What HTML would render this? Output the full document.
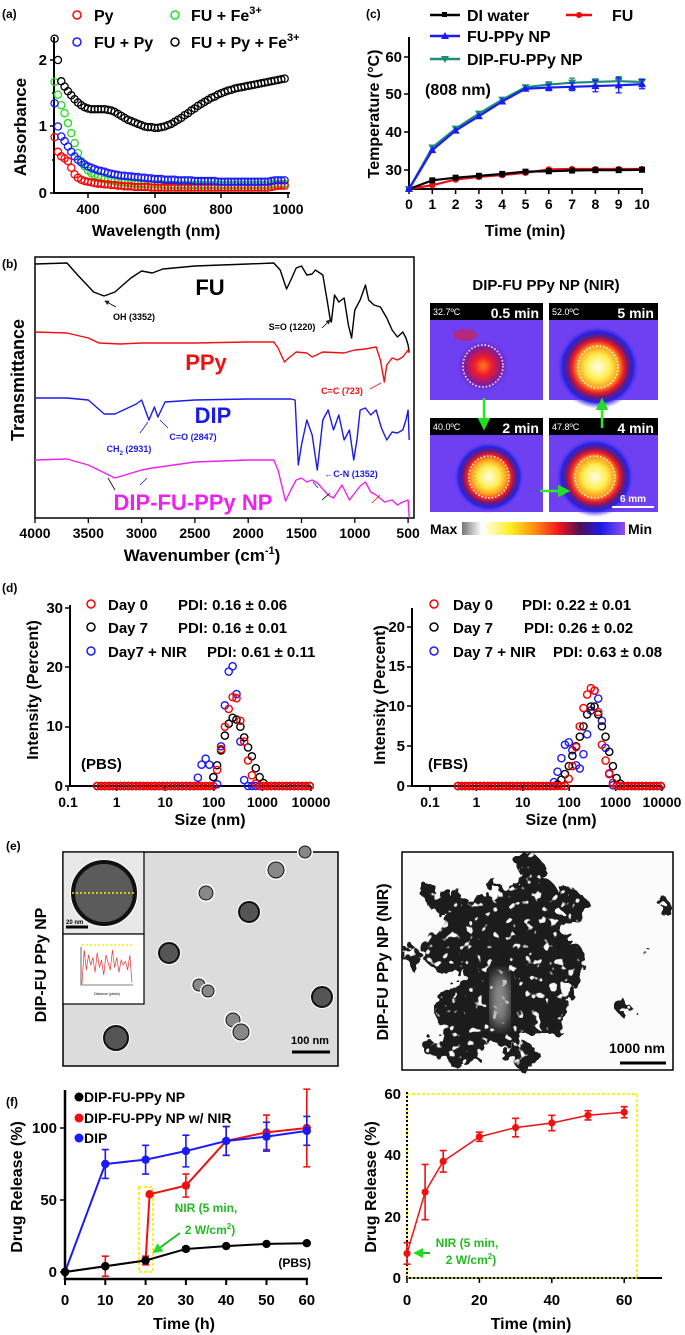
<!DOCTYPE html>
<html><head><meta charset="utf-8">
<style>
html,body{margin:0;padding:0;background:#fff;}
svg{display:block;font-family:"Liberation Sans",Arial,sans-serif;font-weight:bold;}
</style></head>
<body>
<svg id="fig" width="685" height="1335" viewBox="0 0 685 1335" xmlns="http://www.w3.org/2000/svg">
<defs>
<radialGradient id="hot" cx="50%" cy="50%" r="50%">
<stop offset="0" stop-color="#fffce8"/><stop offset="0.3" stop-color="#ffee50"/><stop offset="0.5" stop-color="#ff9a18"/><stop offset="0.62" stop-color="#ee1a28"/><stop offset="0.72" stop-color="#701a70"/><stop offset="0.84" stop-color="#2222e8"/><stop offset="1" stop-color="#7a48f0" stop-opacity="0"/>
</radialGradient>
<radialGradient id="warm" cx="50%" cy="50%" r="50%">
<stop offset="0" stop-color="#ff7a20"/><stop offset="0.35" stop-color="#f01a2a"/><stop offset="0.7" stop-color="#8a1a90"/><stop offset="1" stop-color="#5a30f0" stop-opacity="0"/>
</radialGradient>
<linearGradient id="cbar" x1="0" x2="1" y1="0" y2="0">
<stop offset="0" stop-color="#777"/><stop offset="0.12" stop-color="#fff"/><stop offset="0.3" stop-color="#ffee20"/><stop offset="0.45" stop-color="#ff8a10"/><stop offset="0.6" stop-color="#ee1020"/><stop offset="0.72" stop-color="#501050"/><stop offset="0.85" stop-color="#1a1ae8"/><stop offset="1" stop-color="#9050f0"/>
</linearGradient>
<filter id="rough" x="-30%" y="-30%" width="160%" height="160%">
<feTurbulence type="fractalNoise" baseFrequency="0.06" numOctaves="3" seed="4" result="n"/>
<feDisplacementMap in="SourceGraphic" in2="n" scale="34" result="d"/>
<feTurbulence type="fractalNoise" baseFrequency="0.12" numOctaves="2" seed="7" result="n2"/>
<feColorMatrix in="n2" type="matrix" values="0 0 0 0 0  0 0 0 0 0  0 0 0 0 0  0 0 0 -12 8.6" result="m"/>
<feComposite in="d" in2="m" operator="in"/>
</filter>
<filter id="soft"><feGaussianBlur stdDeviation="6"/></filter>
<marker id="arrB" markerWidth="6" markerHeight="6" refX="5" refY="3" orient="auto"><path d="M0,0 L6,3 L0,6 z" fill="#222"/></marker>
<marker id="arrG" markerWidth="5" markerHeight="5" refX="4" refY="2.5" orient="auto"><path d="M0,0 L5,2.5 L0,5 z" fill="#22dd22"/></marker>
</defs>

<!-- ============ PANEL A ============ -->
<g>
<text x="2" y="18" font-size="12">(a)</text>
<line x1="54" y1="37" x2="54" y2="194" stroke="#000" stroke-width="2"/>
<line x1="53" y1="193" x2="290" y2="193" stroke="#000" stroke-width="2"/>
<g font-size="15" text-anchor="end">
<text x="47" y="198">0</text><text x="47" y="131">1</text><text x="47" y="65">2</text>
<path d="M50,193H54M50,126H54M50,60H54M52,160H54M52,93H54" stroke="#000" stroke-width="1.5"/>
</g>
<g font-size="14" text-anchor="middle">
<text x="88" y="214">400</text><text x="155" y="214">600</text><text x="221" y="214">800</text><text x="288" y="214">1000</text>
<path d="M88,193V198M155,193V198M221,193V198M288,193V198" stroke="#000" stroke-width="1.5"/>
</g>
<text x="156" y="236" font-size="16" text-anchor="middle">Wavelength (nm)</text>
<text transform="translate(26,127) rotate(-90)" font-size="17" text-anchor="middle">Absorbance</text>
<g font-size="16">
<circle cx="77" cy="15" r="4" fill="none" stroke="#f00" stroke-width="1.5"/><text x="94" y="21">Py</text>
<circle cx="77" cy="42" r="4" fill="none" stroke="#1a1aff" stroke-width="1.5"/><text x="94" y="48">FU + Py</text>
<circle cx="175" cy="15" r="4" fill="none" stroke="#1ee01e" stroke-width="1.5"/><text x="191" y="21">FU + Fe<tspan font-size="11" dy="-7">3+</tspan></text>
<circle cx="175" cy="42" r="4" fill="none" stroke="#000" stroke-width="1.5"/><text x="191" y="48">FU + Py + Fe<tspan font-size="11" dy="-7">3+</tspan></text>
</g>
<g id="aMarks"></g>
</g>

<!-- ============ PANEL C ============ -->
<g>
<text x="366" y="18" font-size="12">(c)</text>
<line x1="409" y1="37" x2="409" y2="190" stroke="#000" stroke-width="2"/>
<line x1="408" y1="189" x2="643" y2="189" stroke="#000" stroke-width="2"/>
<g font-size="15" text-anchor="end">
<text x="402" y="62">60</text><text x="402" y="99">50</text><text x="402" y="137">40</text><text x="402" y="175">30</text>
<path d="M404,57H409M404,94H409M404,132H409M404,170H409" stroke="#000" stroke-width="1.5"/>
</g>
<g id="cTicks" font-size="14" text-anchor="middle"></g>
<text x="525" y="236" font-size="16" text-anchor="middle">Time (min)</text>
<text transform="translate(379,114) rotate(-90)" font-size="16" text-anchor="middle">Temperature (°C)</text>
<g font-size="16">
<line x1="430" y1="15" x2="460" y2="15" stroke="#000" stroke-width="2.5"/><rect x="442" y="12" width="5" height="5" fill="#000"/><text x="467" y="21">DI water</text>
<line x1="566" y1="15" x2="592" y2="15" stroke="#f00" stroke-width="2.5"/><circle cx="579" cy="15" r="3" fill="#f00"/><text x="612" y="21">FU</text>
<line x1="430" y1="36" x2="460" y2="36" stroke="#1a1aff" stroke-width="2.5"/><path d="M445,32 L449,39 L441,39z" fill="#1a1aff"/><text x="467" y="42">FU-PPy NP</text>
<line x1="430" y1="59" x2="460" y2="59" stroke="#1e8c78" stroke-width="2.5"/><path d="M441,56 L449,56 L445,63z" fill="#1e8c78"/><text x="467" y="65">DIP-FU-PPy NP</text>
</g>
<text x="425" y="95" font-size="16">(808 nm)</text>
<g id="cMarks"></g>
</g>

<!-- ============ PANEL B ============ -->
<g>
<text x="2" y="268" font-size="12">(b)</text>
<rect x="35" y="257" width="379" height="261" fill="none" stroke="#000" stroke-width="1.5"/>
<g id="bTicks" font-size="14" text-anchor="middle"></g>
<text x="202" y="561" font-size="17" text-anchor="middle">Wavenumber (cm<tspan font-size="11" dy="-7">-1</tspan><tspan dy="7">)</tspan></text>
<text transform="translate(24,380) rotate(-90)" font-size="18" text-anchor="middle">Transmittance</text>
<g id="bMarks"></g>
<text x="210" y="295" font-size="22" text-anchor="middle" fill="#000">FU</text>
<text x="206" y="370" font-size="22" text-anchor="middle" fill="#f01010">PPy</text>
<text x="213" y="423" font-size="22" text-anchor="middle" fill="#1a1aee">DIP</text>
<text x="193" y="510" font-size="22" text-anchor="middle" fill="#ee22ee">DIP-FU-PPy NP</text>
<g font-size="9" text-anchor="middle">
<text x="134" y="320" fill="#000">OH (3352)</text>
<line x1="116" y1="307" x2="105" y2="301" stroke="#000" stroke-width="0.8" marker-end="url(#arrB)"/>
<text x="292" y="330" fill="#000">S=O (1220)</text>
<line x1="322" y1="328" x2="330" y2="320" stroke="#000" stroke-width="0.8" marker-end="url(#arrB)"/>
<text x="342" y="394" fill="#f01010">C=C (723)</text>
<line x1="370" y1="389" x2="381" y2="383" stroke="#f01010" stroke-width="0.8"/>
<text x="129" y="452" fill="#1a1aee">CH<tspan font-size="6" dy="3">2</tspan><tspan dy="-3"> (2931)</tspan></text>
<line x1="140" y1="433" x2="148" y2="422" stroke="#1a1aee" stroke-width="0.8"/>
<text x="193" y="440" fill="#1a1aee">C=O (2847)</text>
<line x1="168" y1="428" x2="160" y2="420" stroke="#1a1aee" stroke-width="0.8"/>
<text x="351" y="477" fill="#1a1aee">←C-N (1352)</text>
<line x1="115" y1="490" x2="108" y2="478" stroke="#000" stroke-width="0.8"/>
<line x1="140" y1="485" x2="147" y2="478" stroke="#1a1aee" stroke-width="0.8"/>
<line x1="322" y1="500" x2="330" y2="493" stroke="#000" stroke-width="0.8"/>
<line x1="318" y1="488" x2="313" y2="482" stroke="#1a1aee" stroke-width="0.8"/>
<line x1="372" y1="503" x2="380" y2="495" stroke="#f01010" stroke-width="0.8"/>
</g>
</g>

<!-- ============ THERMAL IMAGES ============ -->
<g>
<text x="546" y="290" font-size="15" text-anchor="middle">DIP-FU PPy NP (NIR)</text>
<g id="thermal"></g>
<rect x="462" y="522" width="163" height="13" fill="url(#cbar)"/>
<text x="430" y="534" font-size="14">Max</text>
<text x="628" y="534" font-size="14">Min</text>
<g stroke="#22ee22" stroke-width="2.5" fill="none">
<line x1="484" y1="398" x2="484" y2="428" marker-end="url(#arrG)"/>
<line x1="602" y1="428" x2="602" y2="400" marker-end="url(#arrG)"/>
<line x1="540" y1="491" x2="568" y2="491" marker-end="url(#arrG)"/>
</g>
<line x1="612" y1="507" x2="654" y2="507" stroke="#fff" stroke-width="2"/>
<text x="633" y="502" font-size="10" fill="#fff" text-anchor="middle">6 mm</text>
</g>

<!-- ============ PANEL D ============ -->
<g>
<text x="2" y="592" font-size="12">(d)</text>
<line x1="70" y1="605" x2="70" y2="787" stroke="#000" stroke-width="2"/>
<line x1="69" y1="786" x2="311" y2="786" stroke="#000" stroke-width="2"/>
<g font-size="15" text-anchor="end">
<text x="63" y="613">30</text><text x="63" y="672">20</text><text x="63" y="731">10</text><text x="63" y="791">0</text>
<path d="M65,608H70M65,667H70M65,727H70M65,786H70" stroke="#000" stroke-width="1.5"/>
</g>
<g id="dTicksL" font-size="14" text-anchor="middle"></g>
<text x="210" y="825" font-size="16" text-anchor="middle">Size (nm)</text>
<text transform="translate(38,690) rotate(-90)" font-size="16" text-anchor="middle">Intensity (Percent)</text>
<text x="81" y="769" font-size="15">(PBS)</text>
<g font-size="15">
<circle cx="91" cy="604" r="4" fill="none" stroke="#f00" stroke-width="1.5"/><text x="108" y="610">Day 0</text><text x="178" y="610">PDI: 0.16 ± 0.06</text>
<circle cx="91" cy="627" r="4" fill="none" stroke="#000" stroke-width="1.5"/><text x="108" y="633">Day 7</text><text x="178" y="633">PDI: 0.16 ± 0.01</text>
<circle cx="91" cy="651" r="4" fill="none" stroke="#1a1aff" stroke-width="1.5"/><text x="108" y="657">Day7 + NIR</text><text x="207" y="657">PDI: 0.61 ± 0.11</text>
</g>
<line x1="412" y1="608" x2="412" y2="787" stroke="#000" stroke-width="2"/>
<line x1="411" y1="786" x2="662" y2="786" stroke="#000" stroke-width="2"/>
<g font-size="15" text-anchor="end">
<text x="405" y="632">20</text><text x="405" y="671">15</text><text x="405" y="711">10</text><text x="405" y="751">5</text><text x="405" y="791">0</text>
<path d="M407,627H412M407,667H412M407,706H412M407,746H412M407,786H412" stroke="#000" stroke-width="1.5"/>
</g>
<g id="dTicksR" font-size="14" text-anchor="middle"></g>
<text x="561" y="825" font-size="16" text-anchor="middle">Size (nm)</text>
<text transform="translate(385,695) rotate(-90)" font-size="16" text-anchor="middle">Intensity (Percent)</text>
<text x="428" y="769" font-size="15">(FBS)</text>
<g font-size="15">
<circle cx="434" cy="604" r="4" fill="none" stroke="#f00" stroke-width="1.5"/><text x="453" y="610">Day 0</text><text x="522" y="610">PDI: 0.22 ± 0.01</text>
<circle cx="434" cy="627" r="4" fill="none" stroke="#000" stroke-width="1.5"/><text x="453" y="633">Day 7</text><text x="524" y="633">PDI: 0.26  ± 0.02</text>
<circle cx="434" cy="651" r="4" fill="none" stroke="#1a1aff" stroke-width="1.5"/><text x="453" y="657">Day 7 + NIR</text><text x="553" y="657">PDI: 0.63  ± 0.08</text>
</g>
<g id="dMarks"></g>
</g>

<!-- ============ PANEL E ============ -->
<g>
<text x="6" y="850" font-size="12">(e)</text>
<g>
<rect x="63" y="852" width="275" height="214" fill="#dcdcdc" stroke="#000" stroke-width="1.5"/>
<g id="temParticles"></g>
<rect x="63" y="852" width="81" height="82" fill="#e8e8e8" stroke="#000" stroke-width="1.2"/>
<circle cx="104" cy="893" r="34" fill="#fff"/>
<circle cx="104" cy="893" r="31" fill="#5a5a5a" stroke="#111" stroke-width="4"/>
<line x1="72" y1="893" x2="136" y2="893" stroke="#ffee00" stroke-width="1.5" stroke-dasharray="2,2"/>
<line x1="66" y1="927" x2="88" y2="927" stroke="#000" stroke-width="3"/>
<text x="66" y="924" font-size="6">20 nm</text>
<rect x="63" y="934" width="81" height="70" fill="#fff" stroke="#000" stroke-width="1.2"/>
<line x1="82" y1="945" x2="133" y2="945" stroke="#ffee00" stroke-width="1.5" stroke-dasharray="2,2"/>
<path d="M81,947V985H133" fill="none" stroke="#000" stroke-width="0.6"/>
<text x="107" y="995" font-size="3.5" text-anchor="middle" font-weight="normal">Distance (pixels)</text>
<g id="insetLine"></g>
<line x1="292" y1="1052" x2="330" y2="1052" stroke="#000" stroke-width="3"/>
<text x="310" y="1044" font-size="11" text-anchor="middle">100 nm</text>
</g>
<text transform="translate(46,965) rotate(-90)" font-size="16" text-anchor="middle">DIP-FU PPy NP</text>
<g>
<rect x="402" y="852" width="271" height="218" fill="#fbfbfb" stroke="#000" stroke-width="1.5"/>
<g filter="url(#rough)" fill="#1a1a1a">
<ellipse cx="505" cy="965" rx="42" ry="80"/>
<ellipse cx="478" cy="925" rx="38" ry="28"/>
<ellipse cx="535" cy="915" rx="32" ry="38"/>
<ellipse cx="468" cy="1015" rx="28" ry="38"/>
<ellipse cx="540" cy="1000" rx="26" ry="38"/>
<ellipse cx="448" cy="950" rx="26" ry="22"/>
<ellipse cx="560" cy="960" rx="24" ry="24"/>
<ellipse cx="530" cy="872" rx="14" ry="18"/>
<ellipse cx="440" cy="900" rx="16" ry="12"/>
<ellipse cx="574" cy="905" rx="12" ry="14"/>
<ellipse cx="412" cy="957" rx="9" ry="10"/>
<ellipse cx="625" cy="1010" rx="6" ry="8"/>
<ellipse cx="663" cy="905" rx="6" ry="9"/>
<ellipse cx="645" cy="950" rx="4" ry="4"/>
<ellipse cx="455" cy="1050" rx="30" ry="14"/>
<ellipse cx="520" cy="1055" rx="18" ry="12"/>
</g>
<ellipse cx="500" cy="1000" rx="9" ry="28" fill="#999" filter="url(#soft)"/>
<line x1="620" y1="1063" x2="666" y2="1063" stroke="#000" stroke-width="3"/>
<text x="637" y="1053" font-size="14" text-anchor="middle">1000 nm</text>
</g>
<text transform="translate(388,962) rotate(-90)" font-size="16" text-anchor="middle">DIP-FU PPy NP (NIR)</text>
</g>

<!-- ============ PANEL F ============ -->
<g>
<text x="6" y="1106" font-size="12">(f)</text>
<line x1="65" y1="1090" x2="65" y2="1280" stroke="#000" stroke-width="2.5"/>
<line x1="64" y1="1279" x2="308" y2="1279" stroke="#000" stroke-width="2.5"/>
<g font-size="15" text-anchor="end">
<text x="57" y="1277">0</text><text x="57" y="1205">50</text><text x="57" y="1133">100</text>
<path d="M60,1272H65M60,1200H65M60,1128H65" stroke="#000" stroke-width="1.5"/>
</g>
<g id="fTicksL" font-size="15" text-anchor="middle"></g>
<text x="184" y="1329" font-size="16" text-anchor="middle">Time  (h)</text>
<text transform="translate(22,1187) rotate(-90)" font-size="16" text-anchor="middle">Drug Release (%)</text>
<g font-size="14">
<circle cx="79" cy="1097" r="4.5" fill="#000"/><text x="84" y="1102">DIP-FU-PPy NP</text>
<circle cx="79" cy="1118" r="4.5" fill="#f01010"/><text x="84" y="1123">DIP-FU-PPy NP w/ NIR</text>
<circle cx="79" cy="1138" r="4.5" fill="#1a1aff"/><text x="84" y="1143">DIP</text>
</g>
<text x="311" y="1267" font-size="12" text-anchor="end">(PBS)</text>
<rect x="139" y="1187" width="14" height="85" fill="none" stroke="#ffee00" stroke-width="1.8" stroke-dasharray="3,2"/>
<text x="206" y="1212" font-size="12" fill="#22bb22" text-anchor="middle">NIR (5 min,</text>
<text x="210" y="1234" font-size="12" fill="#22bb22" text-anchor="middle">2 W/cm<tspan font-size="8" dy="-5">2</tspan><tspan dy="5">)</tspan></text>
<line x1="180" y1="1233" x2="154" y2="1252" stroke="#22bb22" stroke-width="2" marker-end="url(#arrG)"/>
<g id="fMarksL"></g>

<rect x="407" y="1094" width="230" height="184" fill="none" stroke="#ffee00" stroke-width="1.8" stroke-dasharray="3,2"/>
<line x1="407" y1="1092" x2="407" y2="1279" stroke="#000" stroke-width="2" stroke-dasharray="2,2"/>
<line x1="406" y1="1278" x2="662" y2="1278" stroke="#000" stroke-width="2"/>
<line x1="407" y1="1278" x2="637" y2="1278" stroke="#ffee00" stroke-width="1.5" stroke-dasharray="2,2"/>
<g font-size="15" text-anchor="end">
<text x="401" y="1283">0</text><text x="401" y="1222">20</text><text x="401" y="1160">40</text><text x="401" y="1099">60</text>
</g>
<g id="fTicksR" font-size="15" text-anchor="middle"></g>
<text x="531" y="1329" font-size="16" text-anchor="middle">Time (min)</text>
<text transform="translate(376,1187) rotate(-90)" font-size="16" text-anchor="middle">Drug Release (%)</text>
<text x="467" y="1247" font-size="12" fill="#22bb22" text-anchor="middle">NIR (5 min,</text>
<text x="471" y="1264" font-size="12" fill="#22bb22" text-anchor="middle">2 W/cm<tspan font-size="8" dy="-5">2</tspan><tspan dy="5">)</tspan></text>
<line x1="430" y1="1253" x2="415" y2="1253" stroke="#22bb22" stroke-width="2" marker-end="url(#arrG)"/>
<g id="fMarksR"></g>
</g>
</svg>

<script>
// ---------- DATA ----------
const aWavelength = [300,310,320,330,340,350,360,370,380,390,400,410,420,430,440,450,460,470,480,490,500,510,520,530,540,550,560,570,580,590,600,610,620,630,640,650,660,670,680,690,700,710,720,730,740,750,760,770,780,790,800,810,820,830,840,850,860,870,880,890,900,910,920,930,940,950,960,970,980,990];
const aPy = [0.84,0.62,0.55,0.52,0.48,0.38,0.28,0.23,0.20,0.18,0.17,0.16,0.15,0.14,0.14,0.13,0.13,0.12,0.12,0.11,0.11,0.10,0.10,0.10,0.09,0.09,0.09,0.09,0.09,0.08,0.08,0.08,0.08,0.08,0.08,0.08,0.08,0.08,0.08,0.08,0.08,0.08,0.08,0.08,0.08,0.08,0.08,0.08,0.08,0.08,0.08,0.08,0.08,0.08,0.08,0.08,0.08,0.08,0.08,0.08,0.08,0.08,0.08,0.08,0.08,0.09,0.10,0.11,0.11,0.11];
const aFuFe = [1.67,1.48,1.32,1.20,1.05,0.90,0.75,0.60,0.48,0.40,0.34,0.30,0.27,0.25,0.23,0.21,0.20,0.19,0.18,0.17,0.16,0.16,0.15,0.15,0.14,0.14,0.14,0.13,0.13,0.13,0.13,0.13,0.13,0.12,0.12,0.12,0.12,0.12,0.12,0.12,0.12,0.12,0.12,0.12,0.12,0.12,0.12,0.12,0.12,0.12,0.12,0.12,0.12,0.12,0.12,0.12,0.12,0.12,0.12,0.12,0.12,0.12,0.12,0.12,0.12,0.13,0.14,0.14,0.14,0.14];
const aFuPy = [1.35,1.00,0.85,0.78,0.70,0.62,0.55,0.50,0.46,0.43,0.40,0.38,0.36,0.34,0.33,0.32,0.30,0.29,0.28,0.27,0.26,0.26,0.25,0.25,0.24,0.24,0.23,0.23,0.22,0.22,0.21,0.21,0.21,0.20,0.20,0.20,0.20,0.19,0.19,0.19,0.19,0.19,0.18,0.18,0.18,0.18,0.18,0.18,0.18,0.17,0.17,0.17,0.17,0.17,0.17,0.17,0.17,0.17,0.17,0.17,0.17,0.17,0.17,0.17,0.17,0.18,0.19,0.19,0.19,0.19];
const aFuPyFe = [2.32,2.00,1.68,1.60,1.53,1.47,1.41,1.36,1.32,1.29,1.27,1.26,1.26,1.26,1.26,1.26,1.25,1.24,1.22,1.19,1.16,1.13,1.10,1.08,1.06,1.04,1.02,1.00,0.99,0.99,0.98,0.98,0.99,1.00,1.02,1.04,1.07,1.10,1.13,1.17,1.20,1.24,1.27,1.31,1.34,1.37,1.40,1.43,1.45,1.48,1.50,1.52,1.54,1.55,1.57,1.58,1.59,1.60,1.61,1.62,1.63,1.64,1.65,1.66,1.67,1.68,1.69,1.70,1.71,1.72];

const cTime = [0,1,2,3,4,5,6,7,8,9,10];
const cDI = [25,27.3,28,28.5,29,29.6,29.7,29.9,30,30,30.1];
const cFU = [25,26,27.5,28.2,28.7,29.3,30.2,30.3,30.3,30.3,30.3];
const cFUPPy = [25,35.3,40.5,44.3,48.2,51.6,51.9,52.1,52.3,52.5,52.8];
const cFUPPyErr = [0,0.5,0.5,0.5,0.5,0.5,0.8,1.0,1.5,2.0,1.2];
const cDIP = [25,36,41,45,48.7,52,52.7,53.2,53.4,53.6,53.4];
const cDIPErr = [0,0.5,0.5,0.5,0.5,0.5,0.7,1.2,0.8,1.2,0.8];

const bWnFU = [4000,3700,3600,3450,3352,3250,3100,3000,2900,2800,2500,2000,1760,1700,1640,1600,1550,1500,1450,1400,1370,1300,1260,1230,1220,1190,1150,1100,1060,1030,1000,950,900,870,820,760,700,650,600,550,520,500,490];
const bFU = [254,255,243,226,222,226,240,247,245,249,252,254,255,248,229,238,250,252,243,244,248,243,218,198,196,223,216,220,193,180,208,218,233,218,213,211,200,188,181,186,180,173,166];
const bWnPPy = [4000,3700,3500,3400,3200,3000,2500,2000,1760,1720,1660,1620,1550,1450,1400,1300,1100,1000,900,800,760,723,700,650,600,550,500,490];
const bPPy = [186,185,180,175,174,175,175,176,176,170,156,160,166,165,161,166,165,168,169,171,158,136,153,160,158,161,168,165];
const bWnDIP = [4000,3700,3500,3350,3250,3050,3000,2931,2880,2847,2780,2500,2000,1600,1560,1530,1500,1450,1400,1352,1300,1250,1200,1150,1100,1050,1010,980,950,900,850,800,750,700,650,600,550,520,500,490];
const bDIP = [120,120,118,104,104,114,118,98,111,101,116,118,119,119,118,53,73,98,83,48,98,108,88,103,78,88,58,78,108,110,103,108,90,78,86,85,88,98,108,78];
const bWnNP = [4000,3700,3500,3250,3000,2900,2500,2000,1760,1720,1650,1600,1550,1500,1450,1400,1350,1250,1200,1120,1050,1000,950,900,850,800,720,650,600,550,500,490];
const bNP = [58,59,53,40,48,50,56,58,58,48,17,28,38,40,36,38,35,23,20,33,18,25,32,36,26,23,16,18,13,16,18,0];
const bTickLabels = [4000,3500,3000,2500,2000,1500,1000,500];

const dSize = [0.4,0.48,0.58,0.7,0.84,1,1.2,1.45,1.75,2.1,2.5,3,3.6,4.3,5.2,6.2,7.5,9,10.8,13,15.6,18.8,22.5,27,32.5,39,47,56,68,81,98,117,141,169,203,244,293,352,422,507,608,730,876,1050,1260,1520,1820,2190,2630,3150,3780,4540,5450,6540,7850,9420];
const dPbsDay0 = [0,0,0,0,0,0,0,0,0,0,0,0,0,0,0,0,0,0,0,0,0,0,0,0,0,0,0,0,0,0,0,2.7,6.2,10,13,15,14.8,11,7.5,4.3,1.8,0.4,0,0,0,0,0,0,0,0,0,0,0,0,0,0];
const dPbsDay7 = [0,0,0,0,0,0,0,0,0,0,0,0,0,0,0,0,0,0,0,0,0,0,0,0,0,0,0,0,0,0,1.5,3.5,6,8.5,10.5,11.5,11.2,10,8.2,6.5,5,3,1.5,0.5,0,0,0,0,0,0,0,0,0,0,0,0];
const dPbsNIR = [0,0,0,0,0,0,0,0,0,0,0,0,0,0,0,0,0,0,0,0,0,0,0,0,0,0,1.4,3.6,4.6,3.6,1.5,0.3,6.7,13.6,19.3,20.2,15.5,7.5,1,0,0,0,0,0,0,0,0,0,0,0,0,0,0,0,0,0];
const dFbsDay0 = [0,0,0,0,0,0,0,0,0,0,0,0,0,0,0,0,0,0,0,0,0,0,0,0,0,0,0,0,0,0,0.9,2.5,4.9,7.5,9.8,11.5,12.3,12,9.3,5.2,3.2,1.6,0.4,0,0,0,0,0,0,0,0,0,0,0,0,0];
const dFbsDay7 = [0,0,0,0,0,0,0,0,0,0,0,0,0,0,0,0,0,0,0,0,0,0,0,0,0,0,0,0.2,0.8,1.5,2.5,3.8,5,6.2,7.5,9,10,10,9,7.5,6.2,4.3,2.5,1,0.3,0,0,0,0,0,0,0,0,0,0,0];
const dFbsNIR = [0,0,0,0,0,0,0,0,0,0,0,0,0,0,0,0,0,0,0,0,0,0,0,0,0,0,0.5,1.8,3.5,5.2,5.5,4.5,2.6,2.2,4,6.5,9.5,12,11,8.2,4.8,1.5,0.1,0,0,0,0,0,0,0,0,0,0,0,0,0];
const dTickLabels = ["0.1","1","10","100","1000","10000"];
const dTickValues = [0.1,1,10,100,1000,10000];

const eGray = [5,140,60,120,80,110,50,130,70,100,40,120,90,60,140,70,110,50,100,80,95,60,120,10];

const fTime = [0,10,20,30,40,50,60];
const fNP = [0,4,8,16,18,19.5,20];
const fNPErr = [0,1,1.5,1.5,1,1,1];
const fNirTime = [0,10,20,21,30,40,50,60];
const fNir = [0,4,8,54,60,91,97,100];
const fNirErr = [0,7,3,1,8,10,12,27];
const fDIP = [0,75,78,84,91,94,98];
const fDIPErr = [0,10,10,11,10,10,10];
const gTime = [0,5,10,20,30,40,50,60];
const gRel = [8,28,38,46,49,50.5,53,54];
const gErr = [3.5,9,3.5,1.5,3,2.5,1.5,1.8];
const fTickL = [0,10,20,30,40,50,60];
const fTickR = [0,20,40,60];

// ---------- HELPERS ----------
const NS = "http://www.w3.org/2000/svg";
function mk(tag, attrs, parent){
  const e = document.createElementNS(NS, tag);
  for (const k in attrs) e.setAttribute(k, attrs[k]);
  parent.appendChild(e);
  return e;
}
const $ = id => document.getElementById(id);

const ax = w => 54.6 + (w - 300) * 0.3334;
const ay = v => 193 - v * 66.5;
const cx = t => 409 + t * 23.3;
const cy = v => 189 - (v - 25) * 3.77;
const bx = wn => 35 + (4000 - wn) * 0.1066;
const by = T => 518 - T;
const dxL = s => 68 + (Math.log10(s) + 1) * 48.6;
const dyL = v => 786 - v * 5.93;
const dxR = s => 430 + (Math.log10(s) + 1) * 46.4;
const dyR = v => 786 - v * 7.95;
const fx = t => 65 + t * 4.03;
const fy = v => 1272 - v * 1.44;
const gx = t => 407 + t * 3.62;
const gy = v => 1278 - v * 3.07;

// ---------- PANEL A ----------
function aSeries(vals, color, name){
  const g = mk('g', {}, $('aMarks'));
  
  
  vals.forEach((v, i) => {
    const c = mk('circle', {cx: ax(aWavelength[i]), cy: ay(v), r: 3.6, fill: 'none', stroke: color, 'stroke-width': 1.3}, g);
    
    
  });
}
aSeries(aFuFe, '#1ee01e', 'series-fu-fe');
aSeries(aPy, '#f00', 'series-py');
aSeries(aFuPy, '#1a1aff', 'series-fu-py');
aSeries(aFuPyFe, '#000', 'series-fu-py-fe');

// ---------- PANEL C ----------
cTime.forEach(t => {
  const tx = mk('text', {x: cx(t), y: 209}, $('cTicks'));
  tx.textContent = t;
  
  
  const tk = mk('line', {x1: cx(t), x2: cx(t), y1: 189, y2: 194, stroke: '#000', 'stroke-width': 1.5}, $('cTicks'));
  
  
});
function cSeries(vals, errs, color, name, marker){
  const g = mk('g', {}, $('cMarks'));
  
  
  const pts = vals.map((v, i) => cx(cTime[i]) + ',' + cy(v)).join(' ');
  const pl = mk('polyline', {points: pts, fill: 'none', stroke: color, 'stroke-width': 2.2}, g);
  
  
  vals.forEach((v, i) => {
    const X = cx(cTime[i]), Y = cy(v);
    if (errs && errs[i] > 0.6) {
      const e = mk('path', {d: `M${X},${cy(v+errs[i])}V${cy(v-errs[i])}M${X-3},${cy(v+errs[i])}H${X+3}M${X-3},${cy(v-errs[i])}H${X+3}`, stroke: color, 'stroke-width': 1.3, fill: 'none'}, g);
      
      
    }
    let m;
    if (marker === 'sq') m = mk('rect', {x: X-3, y: Y-3, width: 6, height: 6, fill: color}, g);
    else if (marker === 'tri') m = mk('path', {d: `M${X},${Y-4}L${X+4},${Y+3}L${X-4},${Y+3}z`, fill: color}, g);
    else if (marker === 'itri') m = mk('path', {d: `M${X-4},${Y-3}L${X+4},${Y-3}L${X},${Y+4}z`, fill: color}, g);
    else m = mk('circle', {cx: X, cy: Y, r: 3.2, fill: color}, g);
    
    
  });
}
cSeries(cFU, null, '#f01010', 'series-fu', 'circ');
cSeries(cDI, null, '#000', 'series-di-water', 'sq');
cSeries(cDIP, cDIPErr, '#1e8c78', 'series-dip-fu-ppy', 'itri');
cSeries(cFUPPy, cFUPPyErr, '#1a1aff', 'series-fu-ppy', 'tri');

// ---------- PANEL B ----------
bTickLabels.forEach(w => {
  const tx = mk('text', {x: bx(w), y: 538}, $('bTicks'));
  tx.textContent = w;
  
  
  const tk = mk('line', {x1: bx(w), x2: bx(w), y1: 518, y2: 523, stroke: '#000', 'stroke-width': 1.3}, $('bTicks'));
  
  
});
function bSpec(wn, vals, color, name){
  const pts = vals.map((v, i) => bx(wn[i]) + ',' + by(v)).join(' ');
  const pl = mk('polyline', {points: pts, fill: 'none', stroke: color, 'stroke-width': 1.4, 'stroke-linejoin': 'round'}, $('bMarks'));
  
  
}
bSpec(bWnFU, bFU, '#000', 'spectrum-fu');
bSpec(bWnPPy, bPPy, '#f01010', 'spectrum-ppy');
bSpec(bWnDIP, bDIP, '#1a1aee', 'spectrum-dip');
bSpec(bWnNP, bNP, '#ee22ee', 'spectrum-dip-fu-ppy-np');

// ---------- THERMAL ----------
const thermalPanels = [
  {x: 430, y: 303, w: 113, h: 97, temp: '32.7ºC', time: '0.5 min', ccx: 483, ccy: 366, grad: 'warm', r: 26},
  {x: 549, y: 303, w: 109, h: 97, temp: '52.0ºC', time: '5 min', ccx: 598, ccy: 367, grad: 'hot', r: 42},
  {x: 430, y: 418, w: 113, h: 94, temp: '40.0ºC', time: '2 min', ccx: 489, ccy: 477, grad: 'hot', r: 36},
  {x: 549, y: 418, w: 109, h: 94, temp: '47.8ºC', time: '4 min', ccx: 595, ccy: 477, grad: 'hot', r: 40}
];
thermalPanels.forEach(p => {
  const g = mk('g', {}, $('thermal'));
  
  
  mk('rect', {x: p.x, y: p.y, width: p.w, height: p.h, fill: '#7e44ee'}, g);
  mk('rect', {x: p.x, y: p.y + 17, width: p.w, height: p.h - 17, fill: '#5a3cf4', opacity: 0.45}, g);
  if (p.grad === 'warm') {
    mk('ellipse', {cx: p.x + 35, cy: p.y + 32, rx: 12, ry: 6, fill: '#d02050', opacity: 0.7}, g);
  }
  mk('circle', {cx: p.ccx, cy: p.ccy, r: p.r, fill: 'url(#' + p.grad + ')'}, g);
  mk('ellipse', {cx: p.ccx, cy: p.ccy, rx: 20, ry: 21, fill: 'none', stroke: '#fff', 'stroke-width': 1.5, 'stroke-dasharray': '1.5,2'}, g);
  mk('rect', {x: p.x, y: p.y, width: p.w, height: 17, fill: '#000'}, g);
  const t1 = mk('text', {x: p.x + 3, y: p.y + 12, 'font-size': 9, fill: '#fff', 'font-weight': 'normal'}, g);
  t1.textContent = p.temp;
  
  
  const t2 = mk('text', {x: p.x + p.w - 4, y: p.y + 15, 'font-size': 14, fill: '#fff', 'text-anchor': 'end'}, g);
  t2.textContent = p.time;
  
  
});

// ---------- PANEL D ----------
function dTicks(gid, xf){
  dTickValues.forEach((v, i) => {
    const tx = mk('text', {x: xf(v), y: 807}, $(gid));
    tx.textContent = dTickLabels[i];
    
    
    const tk = mk('line', {x1: xf(v), x2: xf(v), y1: 786, y2: 791, stroke: '#000', 'stroke-width': 1.5}, $(gid));
    
    
  });
}
dTicks('dTicksL', dxL);
dTicks('dTicksR', dxR);
function dSeries(vals, color, xf, yf, name){
  const g = mk('g', {}, $('dMarks'));
  
  
  vals.forEach((v, i) => {
    const c = mk('circle', {cx: xf(dSize[i]), cy: yf(v), r: 3.6, fill: 'none', stroke: color, 'stroke-width': 1.4}, g);
    
    
  });
}
dSeries(dPbsNIR, '#1a1aff', dxL, dyL, 'pbs-day7-nir');
dSeries(dPbsDay7, '#000', dxL, dyL, 'pbs-day7');
dSeries(dPbsDay0, '#f00', dxL, dyL, 'pbs-day0');
dSeries(dFbsNIR, '#1a1aff', dxR, dyR, 'fbs-day7-nir');
dSeries(dFbsDay7, '#000', dxR, dyR, 'fbs-day7');
dSeries(dFbsDay0, '#f00', dxR, dyR, 'fbs-day0');

// ---------- PANEL E ----------
const temParts = [[276,870,8],[206,893,7],[249,912,10],[169,953,10],[322,997,10],[199,985,6],[208,991,6],[233,1020,7],[241,1032,8],[116,1038,12],[305,852,6]];
temParts.forEach(p => {
  mk('circle', {cx: p[0], cy: p[1], r: p[2] + 2, fill: '#fff'}, $('temParticles'));
  const c = mk('circle', {cx: p[0], cy: p[1], r: p[2], fill: p[2] > 8 ? '#555' : '#888', stroke: '#111', 'stroke-width': p[2] > 8 ? 2 : 1}, $('temParticles'));
  
  
});
const eX = i => 82 + i * (50 / (eGray.length - 1));
const eY = v => 985 - v * 0.25;
const eLine = mk('polyline', {points: eGray.map((v, i) => eX(i) + ',' + eY(v)).join(' '), fill: 'none', stroke: '#f03030', 'stroke-width': 0.7}, $('insetLine'));



// ---------- PANEL F ----------
fTickL.forEach(t => {
  const tx = mk('text', {x: fx(t), y: 1305}, $('fTicksL'));
  tx.textContent = t;
  
  
  const tk = mk('line', {x1: fx(t), x2: fx(t), y1: 1279, y2: 1285, stroke: '#000', 'stroke-width': 2}, $('fTicksL'));
  
  
});
fTickR.forEach(t => {
  const tx = mk('text', {x: gx(t), y: 1305}, $('fTicksR'));
  tx.textContent = t;
  
  
  const tk = mk('line', {x1: gx(t), x2: gx(t), y1: 1278, y2: 1283, stroke: '#000', 'stroke-width': 1.5}, $('fTicksR'));
  
  
});
function fSeries(parent, ts, vals, errs, color, xf, yf, name, r, lw){
  const g = mk('g', {}, $(parent));
  
  
  const pl = mk('polyline', {points: vals.map((v, i) => xf(ts[i]) + ',' + yf(v)).join(' '), fill: 'none', stroke: color, 'stroke-width': lw}, g);
  
  
  vals.forEach((v, i) => {
    const X = xf(ts[i]);
    if (errs[i] > 0) {
      const e = mk('path', {d: `M${X},${yf(v+errs[i])}V${yf(v-errs[i])}M${X-3.5},${yf(v+errs[i])}H${X+3.5}M${X-3.5},${yf(v-errs[i])}H${X+3.5}`, stroke: color, 'stroke-width': 1.6, fill: 'none'}, g);
      
      
    }
    const c = mk('circle', {cx: X, cy: yf(v), r: r, fill: color}, g);
    
    
  });
}
fSeries('fMarksL', fNirTime, fNir, fNirErr, '#f01010', fx, fy, 'release-np-nir', 4.2, 2);
fSeries('fMarksL', fTime, fDIP, fDIPErr, '#1a1aff', fx, fy, 'release-dip', 4.2, 2);
fSeries('fMarksL', fTime, fNP, fNPErr, '#000', fx, fy, 'release-np', 4.2, 2);
fSeries('fMarksR', gTime, gRel, gErr, '#f01010', gx, gy, 'release-nir-minutes', 3.6, 1.5);
</script>
</body></html>
